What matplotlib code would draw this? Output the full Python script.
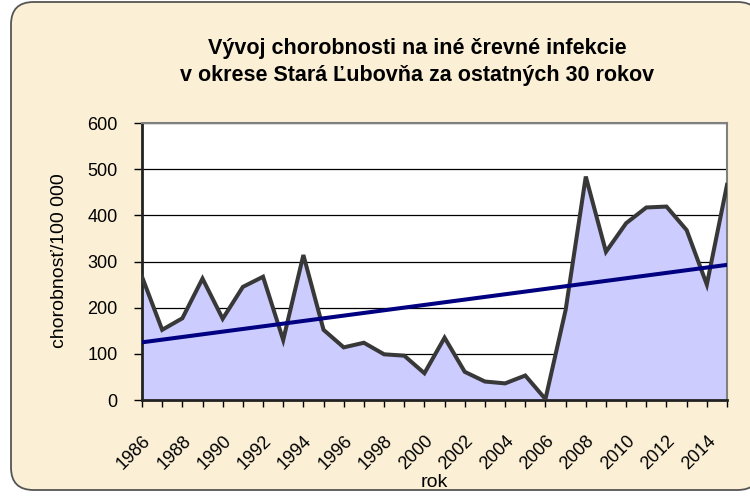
import numpy as np
import matplotlib
matplotlib.use("Agg")
from matplotlib import pyplot as plt
from matplotlib.patches import FancyBboxPatch

years = list(range(1986, 2016))
values = [267, 152, 177, 263, 176, 245, 267, 130, 314, 152,
          114, 124, 99, 96, 58, 135, 61, 40, 36, 53,
          2, 195, 484, 321, 383, 417, 419, 368, 250, 466]
tick_years = list(range(1986, 2016, 2))

title = "Vývoj chorobnosti na iné črevné infekcie\nv okrese Stará Ľubovňa za ostatných 30 rokov"

plt.rcParams['font.family'] = ['Liberation Sans', 'DejaVu Sans']

fig = plt.figure(figsize=(7.5, 4.98), dpi=100)
fig.patch.set_facecolor('white')

# rounded parchment frame
W, H = 750, 498
frame = FancyBboxPatch((11 / W, 8 / H), (760 - 11) / W, (496 - 8) / H,
                       boxstyle="round,pad=0,rounding_size=0.03",
                       transform=fig.transFigure, facecolor='#fbf0d6',
                       edgecolor='#555555', linewidth=1.3, zorder=-5,
                       mutation_aspect=W / H)
fig.patches.append(frame)

ax = fig.add_axes([142 / W, 1 - 400 / H, (727 - 142) / W, (400 - 123) / H])
ax.set_zorder(2)
ax.set_facecolor('white')

x = np.array(years)
y = np.array(values)
ax.fill_between(x, 0, y, color='#ccccff', zorder=2)
ax.plot(x, y, color='#383838', lw=2.9, zorder=3, solid_joinstyle='miter')

# linear trend
k, q = np.polyfit(x, y, 1)
ax.plot(x, k * x + q, color='#000080', lw=2.9, zorder=4)

ax.set_xlim(1986, 2015)
ax.set_ylim(0, 600)
ax.set_yticks(range(0, 601, 100))
ax.yaxis.grid(True, color='black', lw=0.9)
ax.set_axisbelow(True)

ax.set_xticks(years)
ax.set_xticklabels([str(yy) if yy in tick_years else '' for yy in years],
                   rotation=45, ha='right', rotation_mode='anchor', fontsize=13)
ax.tick_params(axis='x', length=5, width=1, color='black', pad=18)
ax.tick_params(axis='y', length=5.5, width=1, color='black', labelsize=13, pad=12)

for s in ['top', 'right']:
    ax.spines[s].set_color('#808080')
    ax.spines[s].set_linewidth(1.5)
for s in ['left', 'bottom']:
    ax.spines[s].set_color('#222222')
    ax.spines[s].set_linewidth(2)

ax.set_ylabel('chorobnosť/100 000', fontsize=14, va='center')
ax.yaxis.set_label_coords(60 / W, 1 - 261 / H, transform=fig.transFigure)
fig.text(434 / W, 1 - 482 / H, 'rok', fontsize=14, ha='center', va='center')
fig.text(417 / W, 1 - 62 / H, title, fontsize=15.5, fontweight='bold',
         ha='center', va='center', linespacing=1.35)

fig.savefig('out.png', dpi=100, facecolor=fig.get_facecolor())
